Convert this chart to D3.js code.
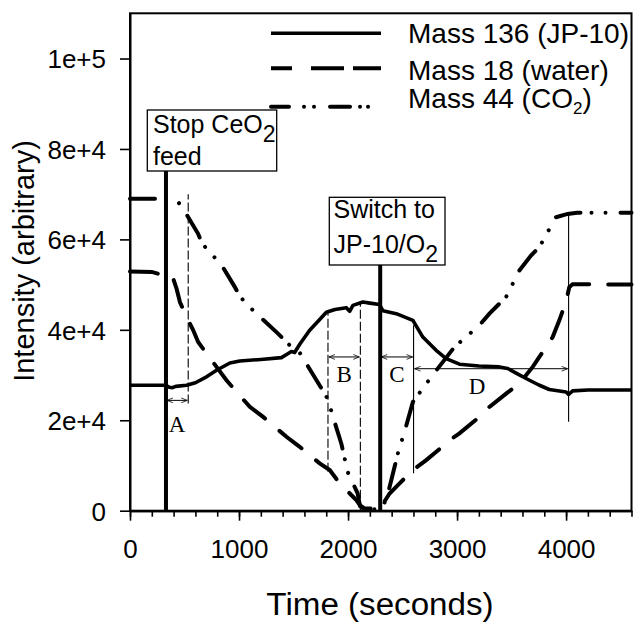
<!DOCTYPE html>
<html><head><meta charset="utf-8">
<script src="https://cdn.jsdelivr.net/npm/d3@7"></script>
<style>
html,body{margin:0;padding:0;background:#fff;}
svg{display:block;font-family:"Liberation Sans",Arial,sans-serif;}
</style></head>
<body><svg id="chart" width="634" height="629"></svg>
<script>
// ---------- data ----------
const timeTicks = [0, 1000, 2000, 3000, 4000];
const timeMinorTicks = d3.range(0, 4601, 200);
const intensityTicks = [0, 20000, 40000, 60000, 80000, 100000];
const intensityTickLabels = ["0", "2e+4", "4e+4", "6e+4", "8e+4", "1e+5"];
const seriesNames = ["Mass 136 (JP-10)", "Mass 18 (water)", "Mass 44 (CO", ")"];

const mass136 = [[0,27750],[300,27750],[330,27700],[360,27300],[390,27200],[420,27500],[519,27750],[600,28300],[702,29600],[794,31060],[916,32670],[1007,33110],[1200,33450],[1389,33860],[1440,34600],[1480,35200],[1510,35000],[1557,36800],[1648,39900],[1740,42300],[1801,43900],[1880,44500],[1984,44900],[2015,44100],[2045,45400],[2136,46140],[2200,45900],[2289,45600],[2320,44200],[2442,43580],[2595,42100],[2686,38400],[2808,35480],[2900,33640],[3022,32400],[3200,32000],[3388,31800],[3465,31440],[3550,30300],[3633,29230],[3750,27800],[3846,26800],[4000,26270],[4023,25700],[4060,26490],[4200,26700],[4600,26700]];

const mass18 = [[0,52900],[200,52800],[300,52100],[336,52400],[370,51800],[397,51300],[427,49100],[458,46140],[519,42800],[580,39890],[625,37310],[748,33270],[885,28850],[1099,22960],[1221,20750],[1435,16340],[1557,14130],[1740,10460],[1832,8990],[1923,6050],[2076,2360],[2110,1200],[2150,500],[2295,400],[2320,1500],[2381,3800],[2473,6050],[2595,8990],[2717,11190],[2823,13300],[2930,15600],[3022,17100],[3205,20750],[3297,22960],[3450,25900],[3571,28100],[3694,31800],[3755,34000],[3877,38400],[3938,42100],[4000,46300],[4029,49400],[4060,50100],[4600,50000]];

const mass44 = [[0,69000],[300,69000],[330,68900],[400,68700],[450,68000],[488,66760],[625,61240],[656,59380],[733,56950],[824,54970],[962,49450],[1007,47400],[1083,45400],[1160,43580],[1358,39160],[1450,36900],[1560,34800],[1740,27700],[1816,24600],[1862,20750],[1938,14880],[1996,8600],[2088,3840],[2110,1000],[2150,300],[2295,300],[2330,1500],[2366,3840],[2397,6800],[2457,12670],[2518,17440],[2595,24060],[2763,29580],[2976,36200],[3205,41000],[3297,43580],[3449,47240],[3571,53130],[3678,56440],[3755,58280],[3907,64900],[4014,65640],[4100,65870],[4600,65870]];

const eventTimes = [330, 2295];
const eventLines1 = ["Stop CeO", "feed"];
const eventLines2 = ["Switch to", "JP-10/O"];

const intervalNames = ["A", "B", "C", "D"];
const intervalStart = [330, 1816, 2295, 2601];
const intervalEnd = [534, 2113, 2601, 4023];
const intervalLevel = [24400, 34000, 34000, 31400];
// guide verticals: [time, from, to, dashed]
const guideTimes = [534, 1816, 2113, 2601, 4023];
const guideFrom = [23700, 8600, 0, 8260, 19650];
const guideTo = [70000, 44300, 46300, 41000, 66000];
const guideDashed = [true, true, true, false, false];

// ---------- chart ----------
const svg = d3.select("#chart");
const x = d3.scaleLinear().domain([0, 4600]).range([130, 631.5]);
const y = d3.scaleLinear().domain([0, 110000]).range([510.7, 13.3]);

const defs = svg.append("defs");
defs.append("marker").attr("id", "arr").attr("viewBox", "0 0 10 10")
  .attr("refX", 10).attr("refY", 5).attr("markerWidth", 7).attr("markerHeight", 6)
  .attr("orient", "auto-start-reverse")
  .append("path").attr("d", "M0,1 L10,5 L0,9").attr("fill", "none")
  .attr("stroke", "#000").attr("stroke-width", 1.3);

// frame
svg.append("rect").attr("x", x(0)).attr("y", y(110000))
  .attr("width", x(4600) - x(0)).attr("height", y(0) - y(110000))
  .attr("fill", "none").attr("stroke", "#000").attr("stroke-width", 2);

// axes
const gx = svg.append("g").attr("transform", `translate(0,${y(0)})`)
  .call(d3.axisBottom(x).tickValues(timeTicks).tickSize(10).tickSizeOuter(0).tickPadding(19).tickFormat(d3.format("d")));
const gxm = svg.append("g").attr("transform", `translate(0,${y(0)})`)
  .call(d3.axisBottom(x).tickValues(timeMinorTicks).tickSize(6).tickSizeOuter(0).tickFormat(""));
const gy = svg.append("g").attr("transform", `translate(${x(0)},0)`)
  .call(d3.axisLeft(y).tickValues(intensityTicks).tickSize(10).tickSizeOuter(0).tickPadding(14)
    .tickFormat((d, i) => intensityTickLabels[i]));
[gx, gxm, gy].forEach(g => {
  g.select(".domain").attr("stroke-width", 2);
  g.selectAll(".tick line").attr("stroke-width", 1.6);
  g.selectAll("text").attr("font-size", 26).attr("font-family", "Liberation Sans, Arial, sans-serif").attr("fill", "#000");
});
gy.selectAll("text").attr("dy", "0.36em");

// axis titles
svg.append("text").attr("transform", "translate(380,615) scale(1.07,1)")
  .attr("text-anchor", "middle").attr("font-size", 31).text("Time (seconds)");
svg.append("text").attr("transform", "translate(33.5,261) rotate(-90)")
  .attr("text-anchor", "middle").attr("font-size", 29).text("Intensity (arbitrary)");

// series
const line = d3.line().x(d => x(d[0])).y(d => y(d[1]));
svg.append("path").datum(mass18).attr("d", line).attr("fill", "none")
  .attr("stroke", "#000").attr("stroke-width", 4).attr("stroke-linecap", "round")
  .attr("stroke-dasharray", "28,19");
svg.append("path").datum(mass44).attr("d", line).attr("fill", "none")
  .attr("stroke", "#000").attr("stroke-width", 4).attr("stroke-linecap", "round")
  .attr("stroke-dasharray", "25,11,0.01,14,0.01,15");
svg.append("path").datum(mass136).attr("d", line).attr("fill", "none")
  .attr("stroke", "#000").attr("stroke-width", 3.6).attr("stroke-linejoin", "round");

// guide verticals
guideTimes.forEach((t, i) => {
  svg.append("line").attr("x1", x(t)).attr("x2", x(t))
    .attr("y1", y(guideFrom[i])).attr("y2", y(guideTo[i]))
    .attr("stroke", "#000").attr("stroke-width", 1.1)
    .attr("stroke-dasharray", guideDashed[i] ? "9,3" : null);
});

// interval arrows + labels
const labelDy = [31.5, 25, 25, 25];
const labelDx = [0, 0, 0, -14];
intervalNames.forEach((n, i) => {
  svg.append("line").attr("x1", x(intervalStart[i]) + 1).attr("x2", x(intervalEnd[i]) - 1)
    .attr("y1", y(intervalLevel[i])).attr("y2", y(intervalLevel[i]))
    .attr("stroke", "#000").attr("stroke-width", 1)
    .attr("marker-start", "url(#arr)").attr("marker-end", "url(#arr)");
  svg.append("text")
    .attr("x", (x(intervalStart[i]) + x(intervalEnd[i])) / 2 + labelDx[i])
    .attr("y", y(intervalLevel[i]) + labelDy[i])
    .attr("text-anchor", "middle").attr("font-family", "Liberation Serif, Times New Roman, serif")
    .attr("font-size", 23).text(n);
});

// event lines
const boxBottoms = [171, 265];
eventTimes.forEach((t, i) => {
  svg.append("line").attr("x1", x(t)).attr("x2", x(t))
    .attr("y1", y(0)).attr("y2", boxBottoms[i])
    .attr("stroke", "#000").attr("stroke-width", 4);
});

// event boxes
function box(bx, by, bw, bh, lines, tx, ty1, ty2) {
  const g = svg.append("g");
  g.append("rect").attr("x", bx).attr("y", by).attr("width", bw).attr("height", bh)
    .attr("fill", "#fff").attr("stroke", "#000").attr("stroke-width", 1.3);
  const t1 = g.append("text").attr("x", tx).attr("y", ty1).attr("font-size", 25);
  const t2 = g.append("text").attr("x", tx).attr("y", ty2).attr("font-size", 25);
  return [t1, t2];
}
const b1 = box(147.3, 110, 129.4, 61, eventLines1, 153, 133.3, 165);
b1[0].append("tspan").text(eventLines1[0]);
b1[0].append("tspan").attr("font-size", 23).attr("dy", 9).text("2");
b1[1].text(eventLines1[1]);
const b2 = box(329.3, 197.3, 115.7, 67.7, eventLines2, 333.5, 218.3, 253.3);
b2[0].text(eventLines2[0]);
b2[1].append("tspan").text(eventLines2[1]);
b2[1].append("tspan").attr("font-size", 23).attr("dy", 9).text("2");

// legend
const legY = [33.3, 68.3, 106.7];
const legText = [43.3, 80, 108.3];
const legDash = [null, "21,19,33,9,30", "18,15,0.01,10,0.01,16,20,10,0.01,8,0.01,30"];
const legW = [3.6, 4, 4];
legY.forEach((ly, i) => {
  svg.append("line").attr("x1", 271).attr("x2", 381).attr("y1", ly).attr("y2", ly)
    .attr("stroke", "#000").attr("stroke-width", legW[i])
    .attr("stroke-linecap", i === 2 ? "round" : "butt")
    .attr("stroke-dasharray", legDash[i]);
});
svg.append("text").attr("x", 408).attr("y", legText[0]).attr("font-size", 28).text(seriesNames[0]);
svg.append("text").attr("x", 408).attr("y", legText[1]).attr("font-size", 28).text(seriesNames[1]);
const l3 = svg.append("text").attr("x", 408).attr("y", legText[2]).attr("font-size", 28);
l3.append("tspan").text(seriesNames[2]);
l3.append("tspan").attr("font-size", 17).attr("dy", 6).text("2");
l3.append("tspan").attr("dy", -6).text(seriesNames[3]);
</script>
</body></html>
